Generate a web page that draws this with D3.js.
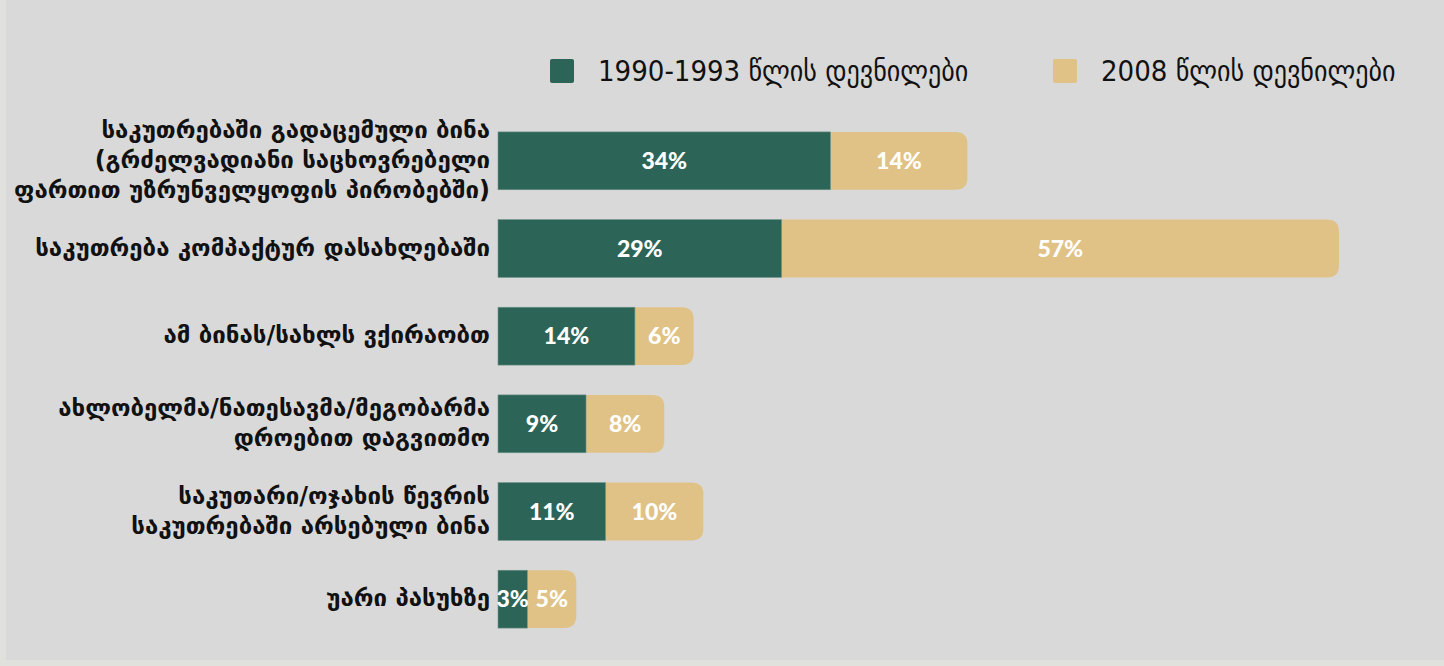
<!DOCTYPE html>
<html>
<head>
<meta charset="utf-8">
<script src="https://cdn.jsdelivr.net/npm/d3@7"></script>
<style>
  body { margin: 0; background: #e0e1dc; }
  svg { display: block; }
  .cat { font-family: "DejaVu Sans", sans-serif; font-weight: bold; font-size: 24px; fill: #111; }
  .val { font-family: Lato, "Open Sans", sans-serif; font-weight: 900; font-size: 23px; fill: #fff; }
  .leg { font-family: "DejaVu Sans Condensed", "DejaVu Sans", sans-serif; font-size: 29px; fill: #111; }
</style>
</head>
<body>
<script>
var width = 1444,
  height = 666;

// კატეგორიები (ხაზებად დაყოფილი)
var categories = [
  ["საკუთრებაში გადაცემული ბინა", "(გრძელვადიანი საცხოვრებელი", "ფართით უზრუნველყოფის პირობებში)"],
  ["საკუთრება კომპაქტურ დასახლებაში"],
  ["ამ ბინას/სახლს ვქირაობთ"],
  ["ახლობელმა/ნათესავმა/მეგობარმა", "დროებით დაგვითმო"],
  ["საკუთარი/ოჯახის წევრის", "საკუთრებაში არსებული ბინა"],
  ["უარი პასუხზე"]
];
var seriesNames = ["1990-1993 წლის დევნილები", "2008 წლის დევნილები"];
var values1993 = [34, 29, 14, 9, 11, 3];
var values2008 = [14, 57, 6, 8, 10, 5];
var colors = ["#2c6557", "#e0c287"];

var svg = d3.select("body").append("svg")
  .attr("width", width)
  .attr("height", height);

// ფონი
svg.append("rect")
  .attr("x", 6).attr("y", 0)
  .attr("width", width - 6).attr("height", 660)
  .attr("fill", "#d9d9d9");

var rows = categories.map((c, i) => ({
  i: i,
  lines: c,
  a: values1993[i],
  b: values2008[i]
}));

var x = d3.scaleLinear()
  .domain([0, 86])
  .range([498, 1339]);

var y = d3.scaleBand()
  .domain(d3.range(rows.length))
  .range([117, 643])
  .paddingInner(0.34)
  .paddingOuter(0.17);

var g = svg.append("g");

var row = g.selectAll(".row")
  .data(rows)
  .enter()
  .append("g")
  .attr("class", "row")
  .attr("transform", d => "translate(0," + y(d.i) + ")");

var h = y.bandwidth(), r = 12;

// მეორე სერია (მომრგვალებული მარჯვენა კუთხეები)
row.append("path")
  .attr("fill", colors[1])
  .attr("d", d => {
    var x0 = x(d.a), x1 = x(d.a + d.b);
    return "M" + x0 + ",0H" + (x1 - r) + "Q" + x1 + ",0 " + x1 + "," + r +
      "V" + (h - r) + "Q" + x1 + "," + h + " " + (x1 - r) + "," + h + "H" + x0 + "Z";
  });

// პირველი სერია
row.append("rect")
  .attr("fill", colors[0])
  .attr("stroke", "#6f958b")
  .attr("stroke-width", 0.6)
  .attr("x", x(0))
  .attr("width", d => x(d.a) - x(0))
  .attr("height", h);

row.append("text")
  .attr("class", "val")
  .attr("x", d => (x(0) + x(d.a)) / 2)
  .attr("y", h / 2)
  .attr("dy", "0.36em")
  .attr("text-anchor", "middle")
  .text(d => d.a + "%");

row.append("text")
  .attr("class", "val")
  .attr("x", d => (x(d.a) + x(d.a + d.b)) / 2)
  .attr("y", h / 2)
  .attr("dy", "0.36em")
  .attr("text-anchor", "middle")
  .text(d => d.b + "%");

// კატეგორიების წარწერები
var lineH = 30;
row.append("text")
  .attr("class", "cat")
  .attr("text-anchor", "end")
  .each(function(d) {
    var t = d3.select(this);
    var y0 = h / 2 - (d.lines.length - 1) * lineH / 2;
    d.lines.forEach((l, k) => {
      t.append("tspan")
        .attr("x", 490)
        .attr("y", y0 + k * lineH)
        .attr("dy", "0.3em")
        .text(l);
    });
  });

// ლეგენდა
var legX = [550, 1053];
var leg = svg.append("g").selectAll("g")
  .data(seriesNames)
  .enter()
  .append("g")
  .attr("transform", (d, i) => "translate(" + legX[i] + ",59)");

leg.append("rect")
  .attr("width", 24).attr("height", 24)
  .attr("rx", 2)
  .attr("fill", (d, i) => colors[i]);

leg.append("text")
  .attr("class", "leg")
  .attr("x", 48)
  .attr("y", 12)
  .attr("dy", "0.36em")
  .text(d => d);
</script>
</body>
</html>
